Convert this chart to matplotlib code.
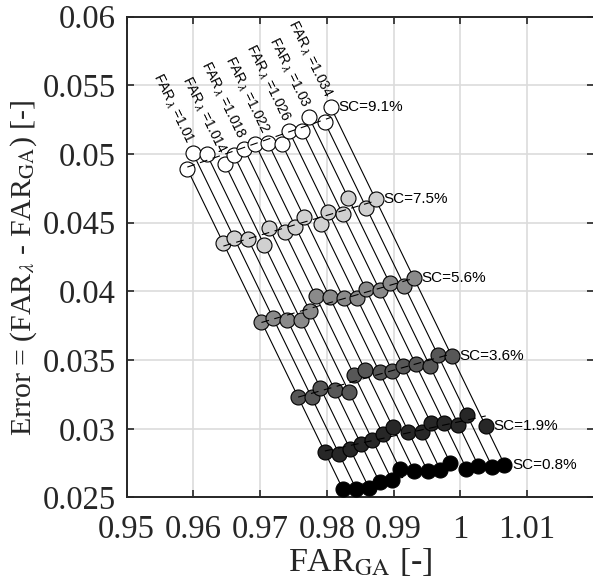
import numpy as np
import matplotlib
matplotlib.use("Agg")
import matplotlib.pyplot as plt

# ---------------- data ----------------
far_lambda = [1.008, 1.010, 1.012, 1.014, 1.016, 1.018, 1.020,
              1.022, 1.024, 1.026, 1.028, 1.030, 1.032, 1.034]
labelled_lambda = [1.010, 1.014, 1.018, 1.022, 1.026, 1.030, 1.034]
labelled_text = ['1.01', '1.014', '1.018', '1.022', '1.026', '1.03', '1.034']

sc_labels = ['SC=9.1%', 'SC=7.5%', 'SC=5.6%', 'SC=3.6%', 'SC=1.9%', 'SC=0.8%']
err_sc91 = [0.0489, 0.0501, 0.0500, 0.0493, 0.0499, 0.0504, 0.0507,
            0.0508, 0.0507, 0.0517, 0.0517, 0.0527, 0.0523, 0.0534]
err_sc75 = [0.0435, 0.0439, 0.0438, 0.0434, 0.0446, 0.0443, 0.0447,
            0.0454, 0.0449, 0.0458, 0.0456, 0.0468, 0.0461, 0.0467]
err_sc56 = [0.0378, 0.0381, 0.0379, 0.0379, 0.0386, 0.0397, 0.0396,
            0.0395, 0.0395, 0.0402, 0.0401, 0.0406, 0.0404, 0.0410]
err_sc36 = [0.0323, 0.0323, 0.0330, 0.0328, 0.0327, 0.0339, 0.0343,
            0.0341, 0.0342, 0.0346, 0.0347, 0.0346, 0.0354, 0.0353]
err_sc19 = [0.0283, 0.0282, 0.0285, 0.0289, 0.0292, 0.0296, 0.0301,
            0.0298, 0.0298, 0.0304, 0.0304, 0.0303, 0.0310, 0.0302]
err_sc08 = [0.0256, 0.0256, 0.0257, 0.0261, 0.0263, 0.0271, 0.0269,
            0.0269, 0.0270, 0.0275, 0.0271, 0.0273, 0.0272, 0.0274]
sc_colors = ['#ffffff', '#d0d0d0', '#8a8a8a', '#575757', '#272727', '#000000']

x_ticks = [0.95, 0.96, 0.97, 0.98, 0.99, 1.00, 1.01]
x_ticklabels = ['0.95', '0.96', '0.97', '0.98', '0.99', '1', '1.01']
y_ticks = [0.025, 0.03, 0.035, 0.04, 0.045, 0.05, 0.055, 0.06]
y_ticklabels = ['0.025', '0.03', '0.035', '0.04', '0.045', '0.05', '0.055', '0.06']

# ---------------- figure ----------------
plt.rcParams['font.family'] = ['Liberation Serif', 'DejaVu Serif']
fig = plt.figure(figsize=(5.93, 5.87), dpi=100)
ax = fig.add_axes([0.2135, 0.1525, 0.7880, 0.8191])

errs = np.array([err_sc91, err_sc75, err_sc56, err_sc36, err_sc19, err_sc08])
lam = np.array(far_lambda)
far_ga = lam[None, :] - errs   # FAR_GA = FAR_lambda - Error

# constant FAR_lambda lines across SC levels
for j in range(len(lam)):
    ax.plot(far_ga[:, j], errs[:, j], color='black', lw=0.8, zorder=2)

# SC rows
for i in range(errs.shape[0]):
    ax.plot(far_ga[i], errs[i], linestyle='none', marker='o', markersize=10.8,
            markerfacecolor=sc_colors[i], markeredgecolor='black',
            markeredgewidth=0.8, zorder=3, clip_on=False)
    p = np.polyfit(far_ga[i], errs[i], 1)
    xf = np.array([far_ga[i].min(), far_ga[i].max()])
    ax.plot(xf, np.polyval(p, xf), color='black', lw=0.8, dashes=(7, 5), zorder=4)
    ax.annotate(sc_labels[i], (far_ga[i][-1], errs[i][-1]), xytext=(5.5, 0),
                textcoords='offset points', ha='left', va='center',
                fontsize=11, family=['Liberation Sans', 'DejaVu Sans'], zorder=5)

# FAR_lambda labels above top row
for lv, lt in zip(labelled_lambda, labelled_text):
    j = int(np.argmin(np.abs(lam - lv)))
    ax.annotate(r'FAR$_{\,\lambda}$ =' + lt, (far_ga[0][j], errs[0][j]),
                xytext=(-2, 7.5), textcoords='offset points',
                rotation=-64, rotation_mode='anchor', ha='right', va='center',
                fontsize=10, family=['Liberation Sans', 'DejaVu Sans'],
                math_fontfamily='dejavusans', zorder=5)

ax.set_xlim(0.95, 1.02)
ax.set_ylim(0.025, 0.06)
ax.set_xticks(x_ticks)
ax.set_xticklabels(x_ticklabels)
ax.set_yticks(y_ticks)
ax.set_yticklabels(y_ticklabels)
ax.tick_params(direction='in', top=True, right=True, length=5, width=1.2,
               colors='#262626', labelsize=23.5)
ax.tick_params(axis='y', pad=8)
ax.tick_params(axis='x', pad=12)
for s in ax.spines.values():
    s.set_color('#262626')
    s.set_linewidth(1.4)
ax.grid(True, color='#dcdcdc', linewidth=1.2)
ax.set_axisbelow(True)

ax.set_xlabel(r'FAR$_{\mathrm{GA}}$ [-]', fontsize=24.5, color='#262626',
              math_fontfamily='stix', labelpad=1)
ax.set_ylabel(r'Error = (FAR$_{\lambda}$ - FAR$_{\mathrm{GA}}$) [-]', fontsize=21.5,
              color='#262626', math_fontfamily='stix')
ax.yaxis.set_label_coords(-0.188, 0.477)

fig.savefig('out.png', dpi=100)
